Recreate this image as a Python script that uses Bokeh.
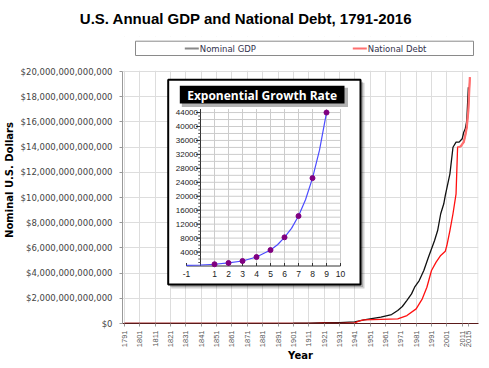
import math
from bokeh.plotting import figure
from bokeh.models import Range1d, FixedTicker, NumeralTickFormatter, ColumnDataSource
from bokeh.core.properties import value
from bokeh.embed import file_html
from bokeh.resources import INLINE

# ---------------- data ----------------
TITLE = "U.S. Annual GDP and National Debt, 1791-2016"
X_LABEL = "Year"
Y_LABEL = "Nominal U.S. Dollars"
LEGEND_LABELS = ["Nominal GDP", "National Debt"]
INSET_TITLE = "Exponential Growth Rate"

x_tick_years = [1791, 1801, 1811, 1821, 1831, 1841, 1851, 1861, 1871, 1881, 1891,
                1901, 1911, 1921, 1931, 1941, 1951, 1961, 1971, 1981, 1991, 2001, 2011, 2015]
y_tick_trillions = [0, 2, 4, 6, 8, 10, 12, 14, 16, 18, 20]

gdp_years = [1791, 1801, 1821, 1841, 1861, 1881, 1901, 1911, 1921, 1931, 1941, 1947,
             1958, 1965, 1969, 1972, 1975, 1978, 1980, 1983, 1986, 1989, 1993, 1995,
             1997, 1999, 2000, 2003, 2005, 2007, 2009, 2011, 2012, 2013, 2014, 2015]
gdp_trillions = [0.0002, 0.0005, 0.0007, 0.0017, 0.0045, 0.011, 0.021, 0.035, 0.074, 0.077, 0.13, 0.29,
                 0.50, 0.71, 1.03, 1.35, 1.83, 2.35, 2.88, 3.41, 4.21, 5.26, 6.59, 7.38,
                 8.71, 9.50, 10.16, 11.88, 13.99, 14.39, 14.39, 14.66, 15.18, 15.45, 16.11, 18.75]

debt_years = [1791, 1801, 1816, 1836, 1851, 1866, 1881, 1901, 1916, 1919, 1931, 1941, 1944,
              1947, 1969, 1975, 1981, 1985, 1988, 1991, 1994, 1997, 2000, 2001, 2003, 2005,
              2007, 2008, 2010, 2012, 2013, 2014, 2015, 2016]
debt_trillions = [0.00008, 0.00008, 0.00013, 0.0, 0.00006, 0.0027, 0.002, 0.0021, 0.0012, 0.0275, 0.0168, 0.049, 0.20,
                  0.29, 0.37, 0.63, 1.16, 1.96, 2.88, 4.21, 4.87, 5.40, 5.74, 6.19, 7.38, 8.71,
                  10.29, 13.99, 14.05, 14.39, 14.92, 15.58, 16.9, 19.55]

inset_x = [1, 2, 3, 4, 5, 6, 7, 8, 9]
inset_y = [500, 870, 1430, 2580, 4580, 8220, 14320, 25200, 44000]
inset_curve_x = [-1, 0, 1, 2, 3, 4, 5, 5.5, 6, 6.5, 7, 7.5, 8, 8.5, 9]
inset_curve_y = [160, 290, 500, 870, 1430, 2580, 4580, 6100, 8220, 10800, 14320, 19000, 25200, 33200, 44000]
inset_x_ticks = [-1, 1, 2, 3, 4, 5, 6, 7, 8, 9, 10]
inset_y_ticks = [4000, 8000, 12000, 16000, 20000, 24000, 28000, 32000, 36000, 40000, 44000]

# ---------------- layout constants (canvas px) ----------------
W, H = 473, 352
FL, FR, FT, FB = 114, 470, 28, 315
Y20 = 63.0                      # canvas y of the $20T line
X1791, PXY = 116.0, 1.535       # canvas x of 1791, px per year
YTOP = 20e12 * (FB - FT) / (FB - Y20)
X_START = 1791 - (X1791 - FL) / PXY
X_END = 1791 + (FR - X1791) / PXY

IX0, IXS = 192.0, 14.0          # inset: canvas x of 0, px per unit
IY0, IYS = 257.5, 13.95 / 4000  # inset: canvas y of 0, px per unit
INSET_XMAX, INSET_YMAX = 10, 45000

p = figure(frame_width=FR - FL, frame_height=FB - FT, output_backend="svg", toolbar_location=None,
           x_range=Range1d(X_START, X_END), y_range=Range1d(0, YTOP),
           min_border_left=FL, min_border_right=W - FR, min_border_top=FT,
           min_border_bottom=H - FB, title=TITLE)
p.outline_line_color = None
p.background_fill_color = "white"
p.border_fill_color = "white"

p.title.text_font = "Liberation Sans"
p.title.text_font_size = "15px"
p.title.text_font_style = "bold"
p.title.align = "left"
p.title.offset = 71.3 - FL
p.title.standoff = 17
p.title.vertical_align = "middle"
p.title.text_color = "black"

p.extra_x_ranges = {"px": Range1d(FL, FR),
                    "ix": Range1d((FL - IX0) / IXS, (FR - IX0) / IXS)}
p.extra_y_ranges = {"py": Range1d(FB, FT),
                    "iy": Range1d((IY0 - FB) / IYS, (IY0 - FT) / IYS)}

y_ticks = [v * 1e12 for v in y_tick_trillions]

# axes
p.yaxis.ticker = FixedTicker(ticks=y_ticks)
p.yaxis.formatter = NumeralTickFormatter(format="$0,0")
p.yaxis.bounds = (0, y_ticks[-1])
p.yaxis.axis_label = Y_LABEL
p.yaxis.axis_label_text_font = "DejaVu Sans"
p.yaxis.axis_label_text_font_size = "10px"
p.yaxis.axis_label_text_font_style = "bold"
p.yaxis.axis_label_text_color = "black"
p.yaxis.axis_label_standoff = 3
p.yaxis.major_label_text_font = "DejaVu Sans"
p.yaxis.major_label_text_font_size = "8.5px"
p.yaxis.major_label_text_color = "#444444"
p.yaxis.major_label_standoff = 7
p.yaxis.major_tick_out = 3
p.yaxis.major_tick_in = 0
p.yaxis.minor_tick_line_color = None
p.yaxis.axis_line_color = "#999999"
p.yaxis.major_tick_line_color = "#999999"

p.xaxis.ticker = FixedTicker(ticks=x_tick_years)
p.xaxis.major_label_orientation = math.pi / 2
p.xaxis.major_label_text_font = "Liberation Sans"
p.xaxis.major_label_text_font_size = "7.5px"
p.xaxis.major_label_text_color = "#555555"
p.xaxis.major_label_standoff = 4
p.xaxis.major_tick_out = 3
p.xaxis.major_tick_in = 0
p.xaxis.minor_tick_line_color = None
p.xaxis.major_tick_line_color = "#999999"
p.xaxis.axis_line_color = "#5a1a1a"
p.xaxis.axis_label = X_LABEL
p.xaxis.axis_label_text_font = "DejaVu Sans"
p.xaxis.axis_label_text_font_size = "10px"
p.xaxis.axis_label_text_font_style = "bold"
p.xaxis.axis_label_text_color = "black"
p.xaxis.axis_label_standoff = 0

p.xgrid.ticker = FixedTicker(ticks=x_tick_years[:-1])
p.xgrid.grid_line_color = "#dddddd"
p.ygrid.ticker = FixedTicker(ticks=y_ticks)
p.ygrid.grid_line_color = "#dddddd"

PXR = dict(x_range_name="px", y_range_name="py")
INR = dict(x_range_name="ix", y_range_name="iy")

# cover grid above the $20T line (legend area) and right border
p.quad(left=FL, right=FR, top=FT, bottom=Y20 - 0.7, fill_color="white", line_color=None, **PXR)
p.segment(x0=FR - 0.5, y0=FB, x1=FR - 0.5, y1=Y20, line_color="#dddddd", line_width=1, **PXR)

# main series
gdp_src = ColumnDataSource(dict(year=gdp_years, usd=[v * 1e12 for v in gdp_trillions]))
debt_src = ColumnDataSource(dict(year=debt_years, usd=[v * 1e12 for v in debt_trillions]))
tail = [(y, v) for y, v in zip(debt_years, debt_trillions) if y >= 2008]
tail_src = ColumnDataSource(dict(year=[t[0] for t in tail], usd=[t[1] * 1e12 for t in tail]))
p.line("year", "usd", source=gdp_src, line_color="#111111", line_width=1.3)
p.line("year", "usd", source=debt_src, line_color="#ff1010", line_width=1.3)
p.line("year", "usd", source=tail_src, line_color="#ff7070", line_width=2.2)

# legend (drawn above the $20T line)
LG_L, LG_R, LG_T, LG_B = 127, 465, 32.7, 47
p.quad(left=LG_L, right=LG_R, top=LG_T, bottom=LG_B, fill_color="white",
       line_color="#8a8a8a", line_width=1, **PXR)
leg_x = [176.3, 344.3]
p.segment(x0=[leg_x[0]], y0=[40], x1=[leg_x[0] + 14], y1=[40], line_color="#888888", line_width=2, **PXR)
p.segment(x0=[leg_x[1]], y0=[40], x1=[leg_x[1] + 14], y1=[40], line_color="#ff6f6f", line_width=2, **PXR)
p.text(x=[x + 15 for x in leg_x], y=[40, 40], text=LEGEND_LABELS, text_align="left",
       text_baseline="middle", text_font=value("DejaVu Sans"), text_font_size="8.5px",
       text_color="#33334d", **PXR)

# inset box
BOX_L, BOX_R, BOX_T, BOX_B = 159.7, 352, 71.3, 276
p.quad(left=BOX_L + 3, right=BOX_R + 4, top=BOX_T + 3, bottom=BOX_B + 4,
       fill_color="#000000", fill_alpha=0.18, line_color=None, **PXR)
p.quad(left=BOX_L + 2, right=BOX_R + 2.5, top=BOX_T + 2, bottom=BOX_B + 2.5,
       fill_color="#000000", fill_alpha=0.2, line_color=None, **PXR)
p.quad(left=BOX_L, right=BOX_R, top=BOX_T, bottom=BOX_B, fill_color="white",
       line_color="black", line_width=2, **PXR)

# inset grid
grid_x = [t for t in inset_x_ticks if t > 0]
p.segment(x0=grid_x, y0=[0] * len(grid_x), x1=grid_x, y1=[INSET_YMAX] * len(grid_x),
          line_color="#cccccc", line_width=1, **INR)
grid_y = list(range(2000, INSET_YMAX, 2000))
p.segment(x0=[0] * len(grid_y), y0=grid_y, x1=[INSET_XMAX] * len(grid_y), y1=grid_y,
          line_color="#cccccc", line_width=1, **INR)

# inset axes
p.segment(x0=[-1, 0], y0=[0, 0], x1=[INSET_XMAX, 0], y1=[0, INSET_YMAX],
          line_color="#333333", line_width=1, **INR)
minor_y = list(range(1000, INSET_YMAX, 1000))
p.segment(x0=[-0.16] * len(minor_y), y0=minor_y, x1=[0] * len(minor_y), y1=minor_y,
          line_color="#555555", line_width=1, **INR)
p.segment(x0=[-0.32] * len(inset_y_ticks), y0=inset_y_ticks, x1=[0] * len(inset_y_ticks),
          y1=inset_y_ticks, line_color="#333333", line_width=1, **INR)
xt = list(range(-1, INSET_XMAX + 1))
p.segment(x0=xt, y0=[IY0] * len(xt), x1=xt, y1=[IY0 - 3] * len(xt),
          line_color="#333333", line_width=1, x_range_name="ix", y_range_name="py")

# inset curve and points
p.line(inset_curve_x, inset_curve_y, line_color="#4c4cff", line_width=1.2, **INR)
p.scatter(inset_x, inset_y, size=5, fill_color="#800080", line_color="#800080", **INR)

# inset tick labels
p.text(x=inset_x_ticks, y=[IY0 + 8] * len(inset_x_ticks), text=[str(t) for t in inset_x_ticks],
       text_align="center", text_baseline="middle", text_font=value("Liberation Sans"),
       text_font_size="8.5px", text_color="#222222", x_range_name="ix", y_range_name="py")
p.text(x=[IX0 - 2.5] * len(inset_y_ticks), y=inset_y_ticks, text=[str(t) for t in inset_y_ticks],
       text_align="right", text_baseline="middle", text_font=value("Liberation Sans"),
       text_font_size="8px", text_color="#222222", x_range_name="px", y_range_name="iy")

# inset title box
TB_L, TB_R, TB_T, TB_B = 171.3, 336, 77.3, 95
p.quad(left=TB_L + 2, right=TB_R + 3.5, top=TB_T + 2, bottom=TB_B + 3.5,
       fill_color="#000000", fill_alpha=0.3, line_color=None, **PXR)
p.quad(left=TB_L, right=TB_R, top=TB_T, bottom=TB_B, fill_color="black", line_color=None, **PXR)
p.text(x=[(TB_L + TB_R) / 2], y=[(TB_T + TB_B) / 2 + 0.5], text=[INSET_TITLE], text_align="center",
       text_baseline="middle", text_font=value("Open Sans"), text_font_style="bold",
       text_font_size="12px", text_color="white", **PXR)

open("out.html", "w").write(file_html(p, INLINE, title=TITLE))
